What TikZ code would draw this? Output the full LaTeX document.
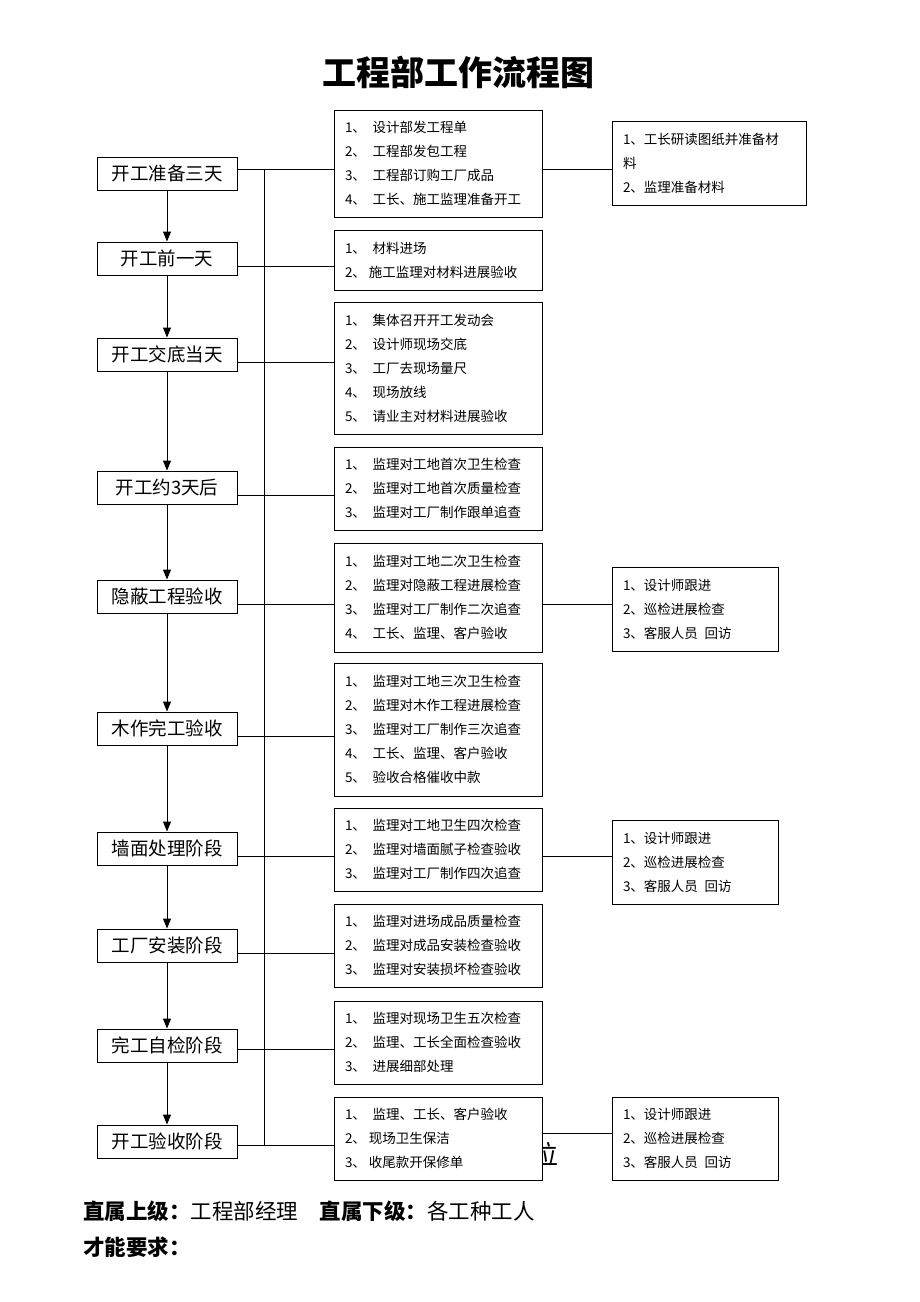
\documentclass[tikz,border=0pt]{standalone}
\usepackage{fontspec}
\setmainfont{Noto Sans CJK SC}
\usetikzlibrary{arrows.meta,positioning}

\begin{document}
\begin{tikzpicture}[x=1pt,y=-1pt,
  stage/.style={draw, line width=1pt, minimum width=140pt, minimum height=33pt, inner sep=0pt, font=\fontsize{18.5}{22}\selectfont},
  task/.style={draw, fill=white, line width=1pt, text width=186pt, inner xsep=11pt, inner ysep=0pt, align=left, font=\fontsize{13.5}{24}\selectfont},
  extra/.style={task, text width=144pt},
  link/.style={line width=1pt},
  >={Triangle[length=10pt,width=8pt]}
  ]
  \useasboundingbox (0,0) rectangle (920,1302);

  % Titre
  \node[font=\fontsize{34}{40}\selectfont\bfseries] (title) at (458,72) {工程部工作流程图};

  % Les etapes
  \node[stage] (s1) at (167,173.5) {开工准备三天};
  \node[stage] (s2) at (167,258.5) {开工前一天};
  \node[stage] (s3) at (167,354.5) {开工交底当天};
  \node[stage] (s4) at (167,487.5) {开工约3天后};
  \node[stage] (s5) at (167,596.5) {隐蔽工程验收};
  \node[stage] (s6) at (167,728.5) {木作完工验收};
  \node[stage] (s7) at (167,848.5) {墙面处理阶段};
  \node[stage] (s8) at (167,945.5) {工厂安装阶段};
  \node[stage] (s9) at (167,1045.5) {完工自检阶段};
  \node[stage] (s10) at (167,1141.5) {开工验收阶段};

  % mot en partie cache
  \node[font=\fontsize{26}{26}\selectfont, inner sep=0pt] (cut) at (545,1154) {位};

  % Les taches
  \node[task, minimum height=107pt] (t1) at (438,163.5) {1、\enspace 设计部发工程单\\2、\enspace 工程部发包工程\\3、\enspace 工程部订购工厂成品\\4、\enspace 工长、施工监理准备开工};
  \node[task, minimum height=60pt] (t2) at (438,260) {1、\enspace 材料进场\\2、\hspace{3pt}施工监理对材料进展验收};
  \node[task, minimum height=132pt] (t3) at (438,368) {1、\enspace 集体召开开工发动会\\2、\enspace 设计师现场交底\\3、\enspace 工厂去现场量尺\\4、\enspace 现场放线\\5、\enspace 请业主对材料进展验收};
  \node[task, minimum height=83pt] (t4) at (438,488.5) {1、\enspace 监理对工地首次卫生检查\\2、\enspace 监理对工地首次质量检查\\3、\enspace 监理对工厂制作跟单追查};
  \node[task, minimum height=109pt] (t5) at (438,597.5) {1、\enspace 监理对工地二次卫生检查\\2、\enspace 监理对隐蔽工程进展检查\\3、\enspace 监理对工厂制作二次追查\\4、\enspace 工长、监理、客户验收};
  \node[task, minimum height=133pt] (t6) at (438,729.5) {1、\enspace 监理对工地三次卫生检查\\2、\enspace 监理对木作工程进展检查\\3、\enspace 监理对工厂制作三次追查\\4、\enspace 工长、监理、客户验收\\5、\enspace 验收合格催收中款};
  \node[task, minimum height=83pt] (t7) at (438,849.5) {1、\enspace 监理对工地卫生四次检查\\2、\enspace 监理对墙面腻子检查验收\\3、\enspace 监理对工厂制作四次追查};
  \node[task, minimum height=83pt] (t8) at (438,945.5) {1、\enspace 监理对进场成品质量检查\\2、\enspace 监理对成品安装检查验收\\3、\enspace 监理对安装损坏检查验收};
  \node[task, minimum height=83pt] (t9) at (438,1042.5) {1、\enspace 监理对现场卫生五次检查\\2、\enspace 监理、工长全面检查验收\\3、\enspace 进展细部处理};
  \node[task, minimum height=83pt] (t10) at (438,1138.5) {1、\enspace 监理、工长、客户验收\\2、\hspace{3pt}现场卫生保洁\\3、\hspace{3pt}收尾款开保修单};

  % Les suivis
  \node[extra, text width=172pt, minimum height=84pt] (f1) at (709,163) {1、工长研读图纸并准备材\\料\\2、监理准备材料};
  \node[extra, minimum height=84pt] (f2) at (695,609) {1、设计师跟进\\2、巡检进展检查\\3、客服人员\enspace 回访};
  \node[extra, minimum height=84pt] (f3) at (695,862) {1、设计师跟进\\2、巡检进展检查\\3、客服人员\enspace 回访};
  \node[extra, minimum height=83pt] (f4) at (695,1138.5) {1、设计师跟进\\2、巡检进展检查\\3、客服人员\enspace 回访};

  % Les fleches
  \draw[->, link] (s1) -- (s2);
  \draw[->, link] (s2) -- (s3);
  \draw[->, link] (s3) -- (s4);
  \draw[->, link] (s4) -- (s5);
  \draw[->, link] (s5) -- (s6);
  \draw[->, link] (s6) -- (s7);
  \draw[->, link] (s7) -- (s8);
  \draw[->, link] (s8) -- (s9);
  \draw[->, link] (s9) -- (s10);

  % Les liaisons
  \coordinate (bt) at (264,169);
  \coordinate (bb) at (264,1145);
  \draw[link] (bt) -- (bb);
  \draw[link] ([yshift=4.5pt]s1.east) -- ([yshift=4.5pt]s1.east -| t1.west);
  \draw[link] ([yshift=-7.5pt]s2.east) -- ([yshift=-7.5pt]s2.east -| t2.west);
  \draw[link] ([yshift=-7.5pt]s3.east) -- ([yshift=-7.5pt]s3.east -| t3.west);
  \draw[link] ([yshift=-7.5pt]s4.east) -- ([yshift=-7.5pt]s4.east -| t4.west);
  \draw[link] ([yshift=-7.5pt]s5.east) -- ([yshift=-7.5pt]s5.east -| t5.west);
  \draw[link] ([yshift=-7.5pt]s6.east) -- ([yshift=-7.5pt]s6.east -| t6.west);
  \draw[link] ([yshift=-7.5pt]s7.east) -- ([yshift=-7.5pt]s7.east -| t7.west);
  \draw[link] ([yshift=-7.5pt]s8.east) -- ([yshift=-7.5pt]s8.east -| t8.west);
  \draw[link] ([yshift=-3.5pt]s9.east) -- ([yshift=-3.5pt]s9.east -| t9.west);
  \draw[link] ([yshift=-3.5pt]s10.east) -- ([yshift=-3.5pt]s10.east -| t10.west);
  \draw[link] ([yshift=4.5pt]s1.east -| t1.east) -- ([yshift=4.5pt]s1.east -| f1.west);
  \draw[link] ([yshift=-7.5pt]s5.east -| t5.east) -- ([yshift=-7.5pt]s5.east -| f2.west);
  \draw[link] ([yshift=-7.5pt]s7.east -| t7.east) -- ([yshift=-7.5pt]s7.east -| f3.west);
  \draw[link] ([yshift=5.5pt]t10.east) -- ([yshift=5.5pt]t10.east -| f4.west);

  % Bas de page
  \node[anchor=west, inner sep=0pt, font=\fontsize{21.5}{26}\selectfont] (boss) at (83,1211) {{\bfseries 直属上级：}工程部经理　{\bfseries 直属下级：}各工种工人};
  \node[anchor=west, inner sep=0pt, font=\fontsize{21.5}{26}\selectfont\bfseries] (req) at (83,1247) {才能要求：};
\end{tikzpicture}
\end{document}
